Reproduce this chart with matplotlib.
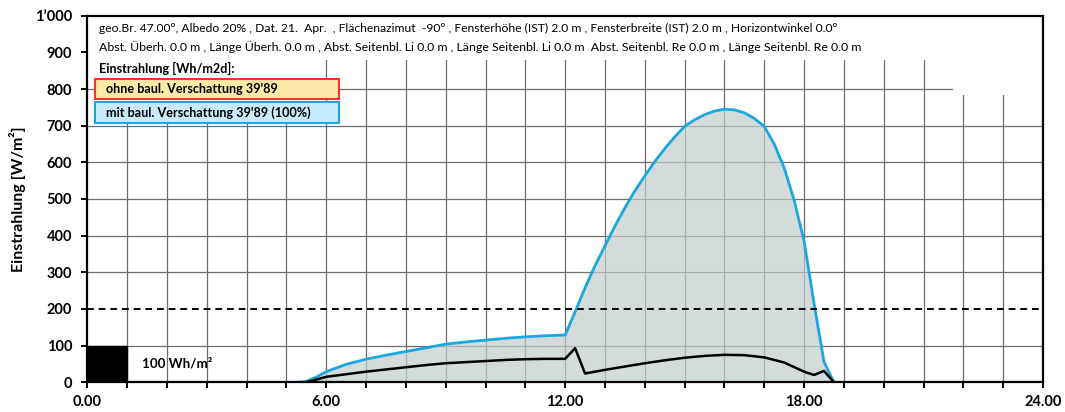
import matplotlib
matplotlib.use("Agg")
import matplotlib.pyplot as plt
from matplotlib.patches import Rectangle

plt.rcParams['font.family'] = ['Lato', 'DejaVu Sans']

# Global irradiance on the facade with building shading (same as without shading)
hours_global = [0.0, 5.3, 5.5, 5.75, 6.0, 6.5, 7.0, 7.5, 8.0, 8.5, 9.0, 9.5, 10.0, 10.5,
                11.0, 11.5, 12.0, 12.25, 12.5, 12.75, 13.0, 13.25, 13.5, 13.75, 14.0, 14.25,
                14.5, 14.75, 15.0, 15.25, 15.5, 15.75, 16.0, 16.25, 16.5, 16.75, 17.0,
                17.25, 17.5, 17.75, 18.0, 18.25, 18.5, 18.75, 24.0]
global_wm2 = [0, 0, 3, 14, 29, 49, 63, 74, 84, 94, 104, 110, 115, 120,
              124, 127, 129, 192, 258, 318, 372, 426, 476, 522, 563, 602,
              637, 669, 698, 716, 730, 740, 745, 743, 735, 720, 698,
              650, 585, 497, 385, 215, 56, 0, 0]

# Diffuse part
hours_diffuse = [0.0, 5.5, 6.0, 6.5, 7.0, 7.5, 8.0, 8.5, 9.0, 9.5, 10.0, 10.5, 11.0, 11.5,
                 12.0, 12.25, 12.5, 13.0, 13.5, 14.0, 14.5, 15.0, 15.5, 16.0, 16.5, 17.0,
                 17.5, 18.0, 18.25, 18.5, 18.75, 24.0]
diffuse_wm2 = [0, 0, 15, 22, 29, 35, 41, 47, 52, 55, 58, 61, 63, 64,
               64, 93, 24, 34, 43, 52, 60, 67, 72, 75, 74, 68,
               54, 29, 20, 31, 0, 0]

y_ticks = [0, 100, 200, 300, 400, 500, 600, 700, 800, 900, 1000]
y_ticklabels = ['0', '100', '200', '300', '400', '500', '600', '700', '800', '900', '1’000']
x_ticks_major = [0, 6, 12, 18, 24]
x_ticklabels = ['0.00', '6.00', '12.00', '18.00', '24.00']
threshold = 200

info_line1 = ("geo.Br. 47.00°, Albedo 20% , Dat. 21.  Apr.  , Flächenazimut  -90° , "
              "Fensterhöhe (IST) 2.0 m , Fensterbreite (IST) 2.0 m , Horizontwinkel 0.0°")
info_line2 = ("Abst. Überh. 0.0 m , Länge Überh. 0.0 m , Abst. Seitenbl. Li 0.0 m , "
              "Länge Seitenbl. Li 0.0 m  Abst. Seitenbl. Re 0.0 m , Länge Seitenbl. Re 0.0 m")
legend_title = "Einstrahlung [Wh/m2d]:"
legend_ohne = "ohne baul. Verschattung 39'89"
legend_mit = "mit baul. Verschattung 39'89 (100%)"

W, H = 1065, 412
fig = plt.figure(figsize=(W / 100, H / 100), dpi=100)
ax = fig.add_axes([87.3 / W, 29.7 / H, (1043 - 87.3) / W, (396.3 - 29.7) / H])

ax.set_xlim(0, 24)
ax.set_ylim(0, 1000)

# grid
ax.set_axisbelow(True)
for h in range(1, 24):
    ax.axvline(h, color='#6e6e6e', lw=0.9, zorder=0.5)
for v in y_ticks[1:-1]:
    if v != threshold:
        ax.axhline(v, color='#6e6e6e', lw=0.9, zorder=0.5)

# white areas behind the header text and legend
ax.add_patch(Rectangle((0, 879), 24, 121, facecolor='white', edgecolor='none', zorder=1))
ax.add_patch(Rectangle((21.75, 784), 2.25, 100, facecolor='white', edgecolor='none', zorder=1))
ax.add_patch(Rectangle((0.19, 707), 5.4, 175, facecolor='white', edgecolor='none', zorder=1))

# shaded area and curves
ax.fill_between(hours_global, global_wm2, 0, facecolor='#c3cdcd', alpha=0.7,
                edgecolor='none', zorder=2)
ax.plot(hours_global, global_wm2, color='#1aa7e0', lw=2.0, zorder=3)
ax.plot(hours_diffuse, diffuse_wm2, color='black', lw=1.8, zorder=3)

# threshold line
ax.axhline(threshold, color='black', lw=1.4, ls=(0, (3.5, 2.5)), zorder=3)

# 100 Wh/m2 scale block
ax.add_patch(Rectangle((0, 0), 1, 100, facecolor='black', edgecolor='black', zorder=3))
ax.text(1.37, 50, '100 Wh/m²', fontsize=9.6, fontweight='bold', va='center', ha='left',
        zorder=5)

# legend boxes
ax.add_patch(Rectangle((0.19, 772), 6.14, 55, facecolor='#fce9a8', edgecolor='#ff3030',
                       lw=1.5, zorder=4))
ax.add_patch(Rectangle((0.19, 708), 6.14, 56, facecolor='#c7ebfb', edgecolor='#1aa7e0',
                       lw=1.5, zorder=4))
ax.text(0.47, 799.5, legend_ohne, fontsize=9.1, fontweight='bold', va='center', ha='left', zorder=5)
ax.text(0.47, 736, legend_mit, fontsize=9.1, fontweight='bold', va='center', ha='left', zorder=5)
ax.text(0.3, 856, legend_title, fontsize=9.1, fontweight='bold', va='center', ha='left', zorder=5)

# header text
ax.text(0.3, 966, info_line1, fontsize=8.7, va='center', ha='left', zorder=5)
ax.text(0.3, 914, info_line2, fontsize=8.9, va='center', ha='left', zorder=5)

# axes styling
for s in ax.spines.values():
    s.set_linewidth(1.6)
    s.set_color('black')
    s.set_zorder(6)

ax.set_yticks(y_ticks)
ax.set_yticklabels(y_ticklabels, fontsize=10.5, fontweight='bold')
ax.set_xticks(x_ticks_major)
ax.set_xticklabels(x_ticklabels, fontsize=10.5, fontweight='bold')
ax.set_xticks(range(0, 25), minor=True)
ax.tick_params(axis='both', which='both', direction='out', length=4, width=1.4, color='black')
ax.tick_params(axis='x', which='major', pad=5)
ax.tick_params(axis='y', which='major', pad=7)
ax.set_ylabel('Einstrahlung [W/m²]', fontsize=11.5, fontweight='bold', labelpad=6)

fig.savefig('out.png', dpi=100)
